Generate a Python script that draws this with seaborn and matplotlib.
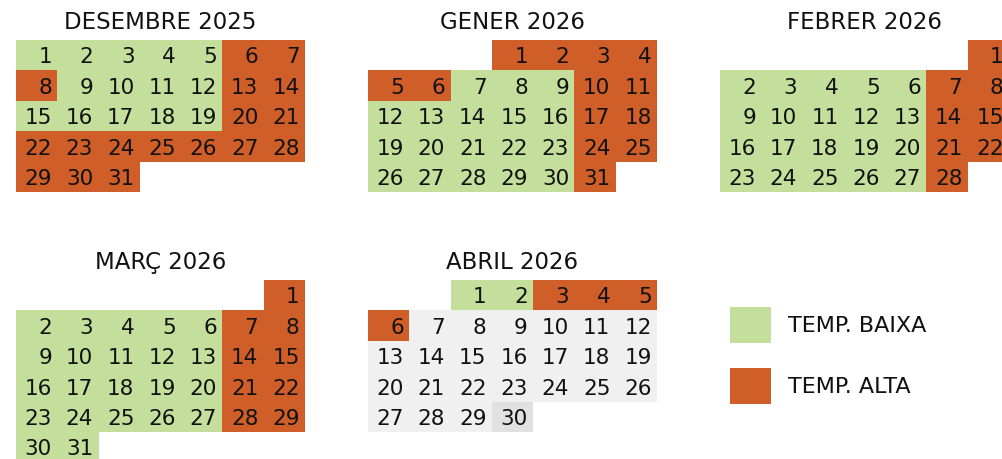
import datetime
import numpy as np
import matplotlib
matplotlib.use("Agg")
import matplotlib.pyplot as plt
from matplotlib.colors import ListedColormap
from matplotlib.patches import Patch
import seaborn as sns

# ---------------------------
# DATA
# ---------------------------
titols = ["DESEMBRE 2025", "GENER 2026", "FEBRER 2026", "MARÇ 2026", "ABRIL 2026"]
anys = [2025, 2026, 2026, 2026, 2026]
mesos = [12, 1, 2, 3, 4]
dies_mes = [31, 31, 28, 31, 30]

# temporada baixa (verd) / alta (taronja)
baixa_des = [1, 2, 3, 4, 5, 9, 10, 11, 12, 15, 16, 17, 18, 19]
alta_des = [6, 7, 8, 13, 14, 20, 21, 22, 23, 24, 25, 26, 27, 28, 29, 30, 31]
baixa_gen = [7, 8, 9, 12, 13, 14, 15, 16, 19, 20, 21, 22, 23, 26, 27, 28, 29, 30]
alta_gen = [1, 2, 3, 4, 5, 6, 10, 11, 17, 18, 24, 25, 31]
baixa_feb = [2, 3, 4, 5, 6, 9, 10, 11, 12, 13, 16, 17, 18, 19, 20, 23, 24, 25, 26, 27]
alta_feb = [1, 7, 8, 14, 15, 21, 22, 28]
baixa_mar = [2, 3, 4, 5, 6, 9, 10, 11, 12, 13, 16, 17, 18, 19, 20, 23, 24, 25, 26, 27, 30, 31]
alta_mar = [1, 7, 8, 14, 15, 21, 22, 28, 29]
baixa_abr = [1, 2]
alta_abr = [3, 4, 5, 6]
destacat_abr = [30]  # gris fosc; la resta d'abril en gris clar

baixes = [baixa_des, baixa_gen, baixa_feb, baixa_mar, baixa_abr]
altes = [alta_des, alta_gen, alta_feb, alta_mar, alta_abr]
destacats = [[], [], [], [], destacat_abr]

llegenda = ["TEMP. BAIXA", "TEMP. ALTA"]

# ---------------------------
# STYLE
# ---------------------------
sns.set_theme(style="white")
plt.rcParams["font.family"] = ["DejaVu Sans"]

VERD = "#c4df9c"
TARONJA = "#cf5e29"
GRIS = "#f0f0f0"
GRIS_FOSC = "#e1e1e1"
cmap = ListedColormap([VERD, TARONJA, GRIS, GRIS_FOSC])

W, H = 1002, 459
fig = plt.figure(figsize=(W / 100, H / 100), dpi=100)
fig.patch.set_facecolor("white")

cell_w, cell_h = 41.3, 30.4
col_x = [16, 368, 720]
row_y = [40, 280]

for i, titol in enumerate(titols):
    primer = datetime.date(anys[i], mesos[i], 1).weekday()
    codis = np.full((6, 7), np.nan)
    etiquetes = {}
    for d in range(1, dies_mes[i] + 1):
        pos = primer + d - 1
        r, c = pos // 7, pos % 7
        if d in baixes[i]:
            codis[r, c] = 0
        elif d in altes[i]:
            codis[r, c] = 1
        elif d in destacats[i]:
            codis[r, c] = 3
        else:
            codis[r, c] = 2
        etiquetes[(r, c)] = d

    x0 = col_x[i % 3]
    y0 = row_y[i // 3]
    ax = fig.add_axes([x0 / W, 1 - (y0 + 6 * cell_h) / H, 7 * cell_w / W, 6 * cell_h / H])
    sns.heatmap(codis, ax=ax, cmap=cmap, vmin=-0.5, vmax=3.5, cbar=False,
                linewidths=0, xticklabels=False, yticklabels=False)
    for (r, c), d in etiquetes.items():
        ax.text(c + 0.87, r + 0.57, str(d), ha="right", va="center",
                fontsize=15.5, color="#111111")
    ax.set_title(titol, fontsize=16.5, pad=8, color="#111111")
    for s in ax.spines.values():
        s.set_visible(False)

handles = [Patch(facecolor=VERD, edgecolor="none"),
           Patch(facecolor=TARONJA, edgecolor="none")]
fig.legend(handles, llegenda, loc="upper left", bbox_to_anchor=(730 / W, 1 - 307 / H),
           frameon=False, fontsize=16, handlelength=1.85, handleheight=2.12,
           labelspacing=1.13, handletextpad=0.77, borderpad=0, borderaxespad=0,
           labelcolor="#111111")

fig.savefig("out.png", dpi=100, facecolor="white")
